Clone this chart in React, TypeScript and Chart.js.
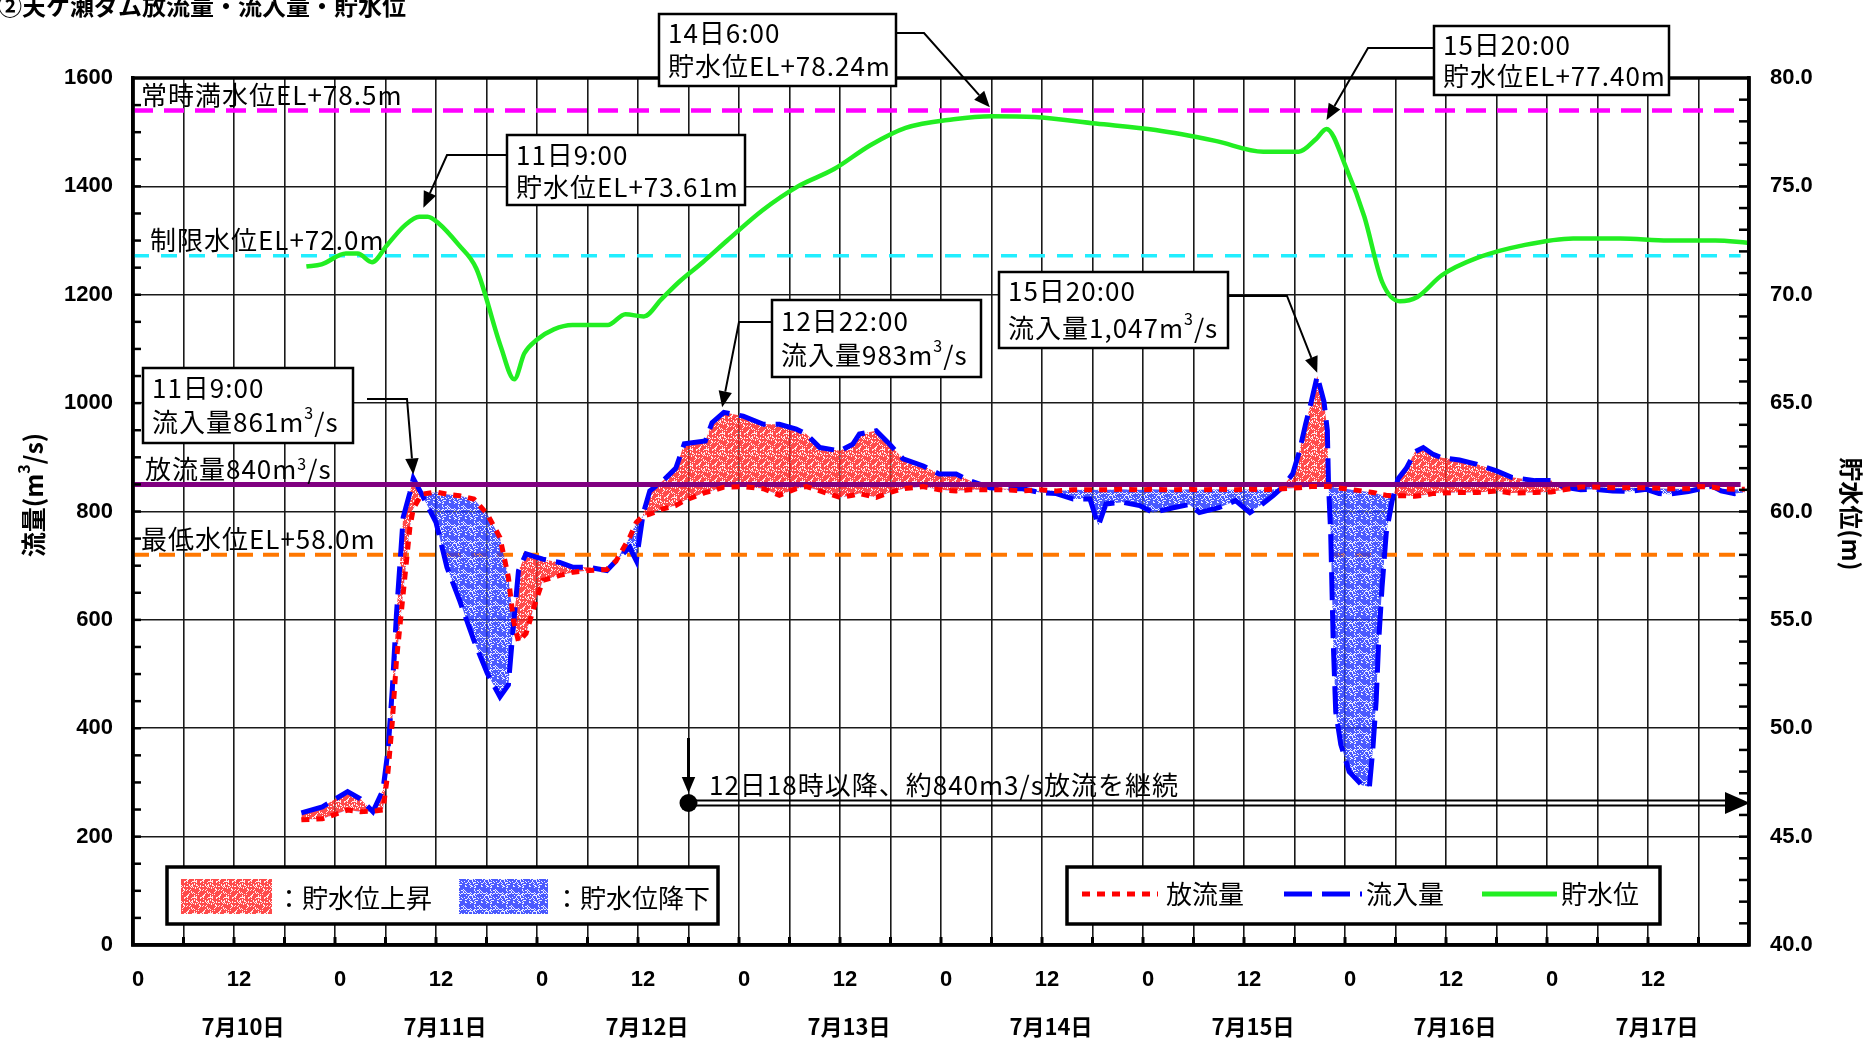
import React, { useEffect, useRef } from "react";
import { Chart, registerables } from "chart.js";

Chart.register(...registerables);

const W = 1869;
const H = 1040;
const PLOT_TOP = 78;
const JP = '"Noto Sans CJK JP", "Noto Sans", sans-serif';
const NUM = '"Liberation Sans", Arial, sans-serif';
const NARROW = '"Liberation Sans Narrow", "Liberation Sans", Arial, sans-serif';

// ---------------- data ----------------
const titleText = "②天ケ瀬ダム放流量・流入量・貯水位";
const dayLabels = ["7月10日", "7月11日", "7月12日", "7月13日", "7月14日", "7月15日", "7月16日", "7月17日"];

// hours since 7/10 0:00
const flowHours = [
  20, 22.5, 25.5, 27, 28.5, 29.7, 30.3, 30.8, 31.3, 32.1, 32.9, 33.3, 34.3, 36, 37.3, 38.8, 40.5, 42.1, 43.6, 44.6,
  45.2, 45.8, 46.7, 47.9, 48.7, 50.7, 52.3, 54.2, 56.3, 57.4, 59, 59.8, 60.6, 61.4, 63, 64.5, 65.5, 68, 68.8, 70.2,
  72.5, 74.9, 76.8, 78.8, 80, 81.6, 84, 85.5, 86.3, 88.3, 89.9, 91.5, 93.9, 95.8, 97.8, 99.4, 101.8, 103.7, 105.7, 107.7,
  109.7, 111.7, 113.7, 114.7, 115.6, 117.6, 119.6, 121.2, 123.6, 125.5, 126.7, 129, 131, 132.7, 134.2, 135.5, 136.6, 137.8, 138.6, 139.3,
  140, 140.7, 141.5, 141.9, 142.05, 142.3, 142.6, 142.9, 143.5, 144.5, 146, 146.9, 147.3, 147.7, 148, 148.4, 148.9, 149.6, 150.3, 151.3,
  152.3, 153.3, 154.4, 155.5, 157.6, 159.7, 162, 163.8, 166.6, 168.5, 170, 172, 173.4, 175.8, 177.8, 179.8, 181.3, 182.5, 184.8, 186,
  187.6, 188.7, 190.3, 191.5,
];
const inflow = [
  244, 255, 283, 270, 246, 286, 360, 470, 610, 789, 835, 861, 832, 780, 697, 636, 562, 501, 458, 480,
  590, 691, 722, 716, 712, 706, 697, 697, 691, 709, 734, 709, 795, 838, 857, 880, 925, 930, 964, 983,
  976, 961, 961, 952, 943, 918, 912, 924, 943, 949, 924, 897, 884, 869, 869, 857, 844, 842, 842, 835,
  833, 823, 823, 774, 814, 817, 811, 798, 807, 813, 798, 807, 820, 798, 814, 830, 845, 870, 912, 960,
  1003, 1050, 1003, 950, 846, 760, 560, 430, 370, 320, 295, 292, 360, 450, 560, 660, 760, 820, 860, 880,
  910, 918, 906, 899, 895, 887, 875, 863, 857, 857, 845, 840, 841, 838, 837, 841, 833, 832, 837, 841,
  847, 838, 833, 835,
];
const outflow = [
  231, 233, 249, 246, 247, 249, 320, 410, 525, 648, 771, 805, 832, 836, 832, 829, 823, 795, 752, 679,
  599, 560, 575, 636, 673, 682, 688, 691, 693, 709, 752, 780, 792, 795, 805, 811, 820, 835, 838, 845,
  846, 842, 830, 842, 846, 838, 826, 830, 833, 826, 835, 842, 846, 840, 838, 840, 840, 840, 838, 840,
  838, 840, 840, 840, 840, 841, 840, 841, 840, 841, 840, 841, 840, 841, 840, 841, 842, 843, 844, 845,
  846, 846, 846, 846, 846, 846, 845, 844, 843, 841, 838, 836, 835, 834, 832, 831, 830, 829, 829, 829,
  828, 830, 833, 834, 835, 835, 838, 834, 835, 836, 840, 845, 845, 844, 844, 844, 843, 842, 842, 846,
  845, 842, 841, 841,
];

const levelHours = [
  20.6, 22.4, 25.3, 26.7, 28.4, 30.2, 32.3, 34, 35, 36.3, 38.7, 40.8, 43.7, 45.3, 46.5, 47.9, 50, 52.2, 56.4, 58.5,
  60.7, 62.8, 64.9, 67.7, 70.6, 74.8, 79, 83.3, 87.6, 91.8, 97.5, 102, 107.1, 114.4, 121.5, 128.6, 134.3, 138.5, 140.6, 141.8,
  144.2, 146.3, 148.4, 150.5, 152.6, 155.5, 159.7, 165.4, 171.1, 176.7, 182.4, 188, 191.8,
];
const levelValues = [
  71.3, 71.4, 71.9, 71.9, 71.5, 72.3, 73.2, 73.6, 73.6, 73.3, 72.3, 71.2, 67.6, 66.1, 67.3, 67.9, 68.4, 68.6, 68.6, 69.1,
  69.0, 69.8, 70.6, 71.5, 72.5, 73.9, 75.0, 75.8, 76.9, 77.7, 78.1, 78.24, 78.2, 77.9, 77.6, 77.1, 76.6, 76.6, 77.2, 77.65,
  75.8, 73.6, 70.6, 69.7, 69.9, 70.9, 71.7, 72.3, 72.6, 72.6, 72.5, 72.5, 72.4,
];

const refSpan = [0, 191];
const releaseFlowLine = 850;
const fullLevelLine = 78.5;
const limitLevelLine = 71.8;
const lowLevelLine = 58.0;
const continueFromHour = 66;

// ---------------- helpers ----------------
function makePattern(rgb: number[], seed: number): CanvasPattern | string {
  const c = document.createElement("canvas");
  c.width = 16;
  c.height = 16;
  const g = c.getContext("2d");
  const fallback = `rgba(${rgb[0]},${rgb[1]},${rgb[2]},0.5)`;
  if (!g) return fallback;
  const img = g.createImageData(16, 16);
  for (let i = 0; i < 256; i++) {
    let h = Math.imul(i + seed * 977, 2654435761) >>> 0;
    h ^= h >>> 13;
    h = Math.imul(h, 1274126177) >>> 0;
    h ^= h >>> 16;
    const on = h % 100 < 55;
    const k = i * 4;
    if (on) {
      img.data[k] = rgb[0];
      img.data[k + 1] = rgb[1];
      img.data[k + 2] = rgb[2];
      img.data[k + 3] = 205;
    } else {
      img.data[k] = Math.round(rgb[0] + (255 - rgb[0]) * 0.75);
      img.data[k + 1] = Math.round(rgb[1] + (255 - rgb[1]) * 0.75);
      img.data[k + 2] = Math.round(rgb[2] + (255 - rgb[2]) * 0.75);
      img.data[k + 3] = 90;
    }
  }
  g.putImageData(img, 0, 0);
  return g.createPattern(c, "repeat") || fallback;
}

function setSpacing(ctx: CanvasRenderingContext2D, px: number) {
  (ctx as any).letterSpacing = `${px}px`;
}

function drawRich(ctx: CanvasRenderingContext2D, text: string, x: number, y: number, size: number, weight = "normal") {
  const parts = text.split("^");
  let cx = x;
  parts.forEach((p, i) => {
    const sup = i % 2 === 1;
    const s = sup ? Math.round(size * 0.62) : size;
    ctx.font = `${weight} ${s}px ${JP}`;
    ctx.fillText(p, cx, sup ? y - size * 0.36 : y);
    cx += ctx.measureText(p).width;
  });
  return cx - x;
}

function richWidth(ctx: CanvasRenderingContext2D, text: string, size: number, weight = "normal") {
  const parts = text.split("^");
  let w = 0;
  parts.forEach((p, i) => {
    const sup = i % 2 === 1;
    const s = sup ? Math.round(size * 0.62) : size;
    ctx.font = `${weight} ${s}px ${JP}`;
    w += ctx.measureText(p).width;
  });
  return w;
}

function arrowPath(ctx: CanvasRenderingContext2D, pts: number[][], head = 15, lw = 2) {
  const n = pts.length;
  const [x1, y1] = pts[n - 2];
  const [x2, y2] = pts[n - 1];
  const a = Math.atan2(y2 - y1, x2 - x1);
  const bx = x2 - head * Math.cos(a);
  const by = y2 - head * Math.sin(a);
  ctx.lineWidth = lw;
  ctx.beginPath();
  ctx.moveTo(pts[0][0], pts[0][1]);
  for (let i = 1; i < n - 1; i++) ctx.lineTo(pts[i][0], pts[i][1]);
  ctx.lineTo(bx, by);
  ctx.stroke();
  const hw = head * 0.42;
  ctx.beginPath();
  ctx.moveTo(x2, y2);
  ctx.lineTo(bx + hw * Math.sin(a), by - hw * Math.cos(a));
  ctx.lineTo(bx - hw * Math.sin(a), by + hw * Math.cos(a));
  ctx.closePath();
  ctx.fill();
}

const pts = (xs: number[], ys: number[]) => xs.map((x, i) => ({ x, y: ys[i] }));

export default function App() {
  const ref = useRef<HTMLCanvasElement | null>(null);

  useEffect(() => {
    const canvas = ref.current;
    if (!canvas) return;
    const redPat = makePattern([255, 30, 30], 3);
    const bluePat = makePattern([30, 50, 255], 11);

    const overlay = {
      id: "overlay",
      afterDraw(chart: any) {
        const ctx: CanvasRenderingContext2D = chart.ctx;
        const xs = chart.scales.x;
        const ys = chart.scales.y;
        const ys2 = chart.scales.y2;
        const { left, right, top, bottom } = chart.chartArea;
        const px = (h: number) => xs.getPixelForValue(h);
        const py = (v: number) => ys.getPixelForValue(v);
        const pl = (l: number) => ys2.getPixelForValue(l);
        ctx.save();
        ctx.strokeStyle = "#000";
        ctx.fillStyle = "#000";
        ctx.setLineDash([]);

        // minor ticks (inside)
        ctx.lineWidth = 2.5;
        for (let v = 50; v < 1600; v += 50) {
          const y = py(v);
          ctx.beginPath();
          ctx.moveTo(left, y);
          ctx.lineTo(left + 8, y);
          ctx.stroke();
        }
        for (let l = 41; l < 80; l += 1) {
          const y = pl(l);
          ctx.beginPath();
          ctx.moveTo(right - 10, y);
          ctx.lineTo(right, y);
          ctx.stroke();
        }
        ctx.lineWidth = 3;
        for (let h = 6; h < 192; h += 6) {
          const x = px(h);
          ctx.beginPath();
          ctx.moveTo(x, bottom);
          ctx.lineTo(x, bottom - 8);
          ctx.stroke();
        }
        // frame
        ctx.lineWidth = 3.5;
        ctx.strokeRect(left, top, right - left, bottom - top);

        // reference line labels
        setSpacing(ctx, 1);
        ctx.textAlign = "left";
        ctx.textBaseline = "alphabetic";
        ctx.font = `26px ${JP}`;
        ctx.fillText("常時満水位EL+78.5m", left + 8, pl(fullLevelLine) - 6);
        ctx.fillText("制限水位EL+72.0m", left + 17, pl(limitLevelLine) - 6);
        drawRich(ctx, "放流量840m^3^/s", left + 12, py(releaseFlowLine) - 5, 26);
        ctx.font = `26px ${JP}`;
        ctx.fillText("最低水位EL+58.0m", left + 8, pl(lowLevelLine) - 6);

        // callout boxes
        type Box = { x: number; y: number; w: number; h: number; l1: string; l2: string; ty: number[]; path: number[][]; tip: number[] };
        const boxes: Box[] = [
          { x: 659, y: 14, w: 237, h: 72, l1: "14日6:00", l2: "貯水位EL+78.24m", ty: [33, 66], path: [[896, 33], [924, 33]], tip: [px(101.8), pl(78.24) - 9] },
          { x: 1434, y: 26, w: 235, h: 69, l1: "15日20:00", l2: "貯水位EL+77.40m", ty: [45, 76], path: [[1434, 48], [1368, 48]], tip: [px(141.8), pl(77.65) - 9] },
          { x: 507, y: 135, w: 238, h: 70, l1: "11日9:00", l2: "貯水位EL+73.61m", ty: [155, 187], path: [[507, 155], [447, 155]], tip: [px(34.5), pl(73.6) - 9] },
          { x: 772, y: 300, w: 209, h: 77, l1: "12日22:00", l2: "流入量983m^3^/s", ty: [321, 355], path: [[772, 322], [739, 322]], tip: [px(70), py(983) - 5] },
          { x: 999, y: 272, w: 229, h: 76, l1: "15日20:00", l2: "流入量1,047m^3^/s", ty: [291, 328], path: [[1228, 296], [1287, 296]], tip: [px(140.7), py(1047) - 5] },
          { x: 143, y: 368, w: 210, h: 75, l1: "11日9:00", l2: "流入量861m^3^/s", ty: [388, 422], path: [[367, 399], [407, 399]], tip: [px(33.3), py(861) - 4] },
        ];
        boxes.forEach((b) => {
          ctx.fillStyle = "#fff";
          ctx.fillRect(b.x, b.y, b.w, b.h);
          ctx.strokeStyle = "#000";
          ctx.lineWidth = 2.5;
          ctx.strokeRect(b.x, b.y, b.w, b.h);
          ctx.fillStyle = "#000";
          ctx.textBaseline = "middle";
          ctx.textAlign = "left";
          drawRich(ctx, b.l1, b.x + 9, b.ty[0], 26);
          drawRich(ctx, b.l2, b.x + 9, b.ty[1], 26);
          arrowPath(ctx, [...b.path, b.tip], 16, 2);
        });

        // continuation arrow
        const cx0 = px(continueFromHour);
        const cy0 = 803;
        ctx.fillStyle = "#000";
        ctx.strokeStyle = "#000";
        arrowPath(ctx, [[cx0, 738], [cx0, 793]], 16, 3);
        ctx.beginPath();
        ctx.arc(cx0, cy0, 9, 0, Math.PI * 2);
        ctx.fill();
        ctx.lineWidth = 2;
        ctx.beginPath();
        ctx.moveTo(cx0, cy0 - 2.5);
        ctx.lineTo(right - 20, cy0 - 2.5);
        ctx.moveTo(cx0, cy0 + 2.5);
        ctx.lineTo(right - 20, cy0 + 2.5);
        ctx.stroke();
        ctx.beginPath();
        ctx.moveTo(right + 1, cy0);
        ctx.lineTo(right - 24, cy0 - 11);
        ctx.lineTo(right - 24, cy0 + 11);
        ctx.closePath();
        ctx.fill();
        ctx.textBaseline = "middle";
        ctx.font = `26px ${JP}`;
        ctx.fillText("12日18時以降、約840m3/s放流を継続", 709, 785);
        setSpacing(ctx, 0);

        // legend 1 (fills)
        ctx.fillStyle = "#fff";
        ctx.fillRect(167, 867, 551, 57);
        ctx.lineWidth = 3.5;
        ctx.strokeRect(167, 867, 551, 57);
        ctx.fillStyle = redPat as any;
        ctx.fillRect(181, 879, 91, 35);
        ctx.fillStyle = bluePat as any;
        ctx.fillRect(459, 879, 89, 35);
        ctx.fillStyle = "#000";
        ctx.font = `26px ${JP}`;
        ctx.fillText("：貯水位上昇", 276, 898);
        ctx.fillText("：貯水位降下", 554, 898);

        // legend 2 (lines)
        ctx.fillStyle = "#fff";
        ctx.fillRect(1067, 867, 593, 57);
        ctx.strokeRect(1067, 867, 593, 57);
        const ly = 894;
        ctx.lineWidth = 5;
        ctx.strokeStyle = "#ff0000";
        ctx.setLineDash([8, 7]);
        ctx.beginPath();
        ctx.moveTo(1082, ly);
        ctx.lineTo(1158, ly);
        ctx.stroke();
        ctx.strokeStyle = "#0000ff";
        ctx.setLineDash([28, 10]);
        ctx.beginPath();
        ctx.moveTo(1284, ly);
        ctx.lineTo(1362, ly);
        ctx.stroke();
        ctx.setLineDash([]);
        ctx.strokeStyle = "#22ee22";
        ctx.beginPath();
        ctx.moveTo(1482, ly);
        ctx.lineTo(1557, ly);
        ctx.stroke();
        ctx.fillStyle = "#000";
        ctx.font = `26px ${JP}`;
        ctx.fillText("放流量", 1166, ly);
        ctx.fillText("流入量", 1366, ly);
        ctx.fillText("貯水位", 1561, ly);

        // date labels
        ctx.textAlign = "center";
        ctx.font = `bold 22px ${JP}`;
        dayLabels.forEach((d, i) => {
          ctx.fillText(d, px(i * 24 + 12) + 9, 1027);
        });

        // axis titles
        ctx.save();
        ctx.translate(33, 495);
        ctx.rotate(-Math.PI / 2);
        ctx.textAlign = "left";
        const tw = richWidth(ctx, "流量(m^3^/s)", 25, "bold");
        drawRich(ctx, "流量(m^3^/s)", -tw / 2, 0, 25, "bold");
        ctx.restore();
        ctx.save();
        ctx.translate(1851, 514);
        ctx.rotate(Math.PI / 2);
        ctx.textAlign = "center";
        ctx.font = `bold 24px ${JP}`;
        ctx.fillText("貯水位(m)", 0, 0);
        ctx.restore();

        // title (cut at top)
        ctx.textAlign = "left";
        ctx.textBaseline = "alphabetic";
        ctx.font = `bold 24px ${JP}`;
        ctx.fillText(titleText, -2, 15);

        ctx.restore();
      },
    };

    const chart = new Chart(canvas, {
      type: "line",
      data: {
        datasets: [
          {
            label: "放流量",
            data: pts(flowHours, outflow),
            yAxisID: "y",
            borderColor: "#ff0000",
            borderWidth: 5,
            borderDash: [8, 7],
            pointRadius: 0,
            tension: 0,
            fill: false,
            order: 3,
          },
          {
            label: "流入量",
            data: pts(flowHours, inflow),
            yAxisID: "y",
            borderColor: "#0000ff",
            borderWidth: 5,
            borderDash: [28, 10],
            pointRadius: 0,
            tension: 0,
            fill: { target: 0, above: redPat as any, below: bluePat as any },
            order: 5,
          },
          {
            label: "貯水位",
            data: pts(levelHours, levelValues),
            yAxisID: "y2",
            borderColor: "#22ee22",
            borderWidth: 4.5,
            pointRadius: 0,
            tension: 0.35,
            cubicInterpolationMode: "monotone",
            fill: false,
            order: 1,
          },
          {
            label: "放流量840",
            data: pts(refSpan, [releaseFlowLine, releaseFlowLine]),
            yAxisID: "y",
            borderColor: "#800080",
            borderWidth: 5,
            pointRadius: 0,
            fill: false,
            order: 4,
          },
          {
            label: "常時満水位",
            data: pts(refSpan, [fullLevelLine, fullLevelLine]),
            yAxisID: "y2",
            borderColor: "#ff00ff",
            borderWidth: 4.5,
            borderDash: [20, 11],
            pointRadius: 0,
            fill: false,
            order: 9,
          },
          {
            label: "制限水位",
            data: pts(refSpan, [limitLevelLine, limitLevelLine]),
            yAxisID: "y2",
            borderColor: "#22eeff",
            borderWidth: 3.5,
            borderDash: [16, 12],
            pointRadius: 0,
            fill: false,
            order: 9,
          },
          {
            label: "最低水位",
            data: pts(refSpan, [lowLevelLine, lowLevelLine]),
            yAxisID: "y2",
            borderColor: "#ff7700",
            borderWidth: 4,
            borderDash: [16, 10],
            pointRadius: 0,
            fill: false,
            order: 9,
          },
        ],
      },
      options: {
        responsive: false,
        animation: false,
        devicePixelRatio: 1,
        layout: { padding: { top: PLOT_TOP, left: 0, right: 0, bottom: 0 } },
        plugins: {
          legend: { display: false },
          tooltip: { enabled: false },
          title: { display: false },
        },
        scales: {
          x: {
            type: "linear",
            min: 0,
            max: 192,
            position: "bottom",
            ticks: {
              stepSize: 6,
              autoSkip: false,
              maxRotation: 0,
              minRotation: 0,
              padding: 22,
              labelOffset: 5,
              color: "#000",
              font: { family: NARROW, size: 22, weight: "bold" },
              callback: (v: any) => {
                const h = Number(v);
                if (h >= 192) return "";
                if (h % 24 === 0) return "0";
                if (h % 24 === 12) return "12";
                return "";
              },
            },
            grid: { color: "#1a1a1a", lineWidth: 1.6, drawTicks: false },
            border: { display: true, color: "#000", width: 3.5 },
            afterFit: (s: any) => {
              s.height = H - 945;
            },
          },
          y: {
            min: 0,
            max: 1600,
            position: "left",
            ticks: {
              stepSize: 200,
              padding: 20,
              color: "#000",
              font: { family: NUM, size: 22, weight: "bold" },
              callback: (v: any) => String(v),
            },
            grid: { color: "#1a1a1a", lineWidth: 1.6, drawTicks: false },
            border: { display: true, color: "#000", width: 3.5 },
            afterFit: (s: any) => {
              s.width = 133;
            },
          },
          y2: {
            min: 40,
            max: 80,
            position: "right",
            ticks: {
              stepSize: 5,
              padding: 21,
              color: "#000",
              font: { family: NUM, size: 22, weight: "bold" },
              callback: (v: any) => Number(v).toFixed(1),
            },
            grid: { display: false, drawTicks: false },
            border: { display: true, color: "#000", width: 3.5 },
            afterFit: (s: any) => {
              s.width = W - 1749;
            },
          },
        },
      } as any,
      plugins: [overlay as any],
    });
    return () => chart.destroy();
  }, []);

  return (
    <div style={{ position: "fixed", left: 0, top: 0, width: W, height: H, background: "#fff" }}>
      <canvas ref={ref} width={W} height={H} style={{ display: "block", width: W, height: H }} />
    </div>
  );
}
